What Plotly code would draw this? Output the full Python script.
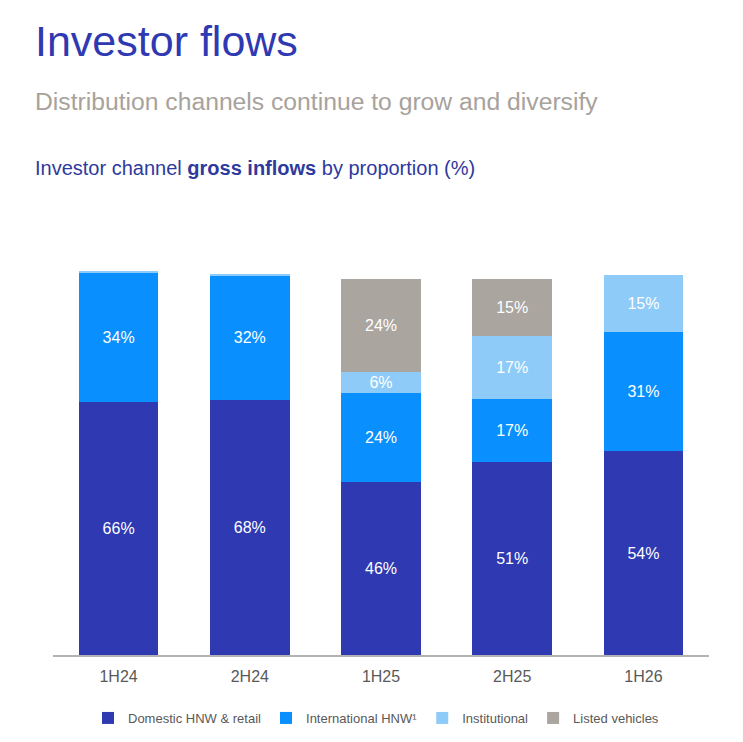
import plotly.graph_objects as go

# ---- data ----
periods = ["1H24", "2H24", "1H25", "2H25", "1H26"]
series_names = ["Domestic HNW & retail", "International HNW\u00b9", "Institutional", "Listed vehicles"]

domestic_vals = [66.0, 66.7, 45.2, 50.4, 53.2]
international_vals = [33.8, 32.4, 23.3, 16.4, 31.1]
institutional_vals = [0.3, 0.3, 5.5, 16.5, 15.0]
listed_vals = [None, None, 24.3, 14.8, None]

domestic_labels = ["66%", "68%", "46%", "51%", "54%"]
international_labels = ["34%", "32%", "24%", "17%", "31%"]
institutional_labels = ["", "", "6%", "17%", "15%"]
listed_labels = ["", "", "24%", "15%", ""]

colors = ["#2E39B2", "#0990FE", "#8FCBF9", "#AAA59F"]

FONT = "Liberation Sans, Arial, sans-serif"

W, H = 743, 742
ML, MR, MT, MB = 53, 34, 200, 87
PW, PH = W - ML - MR, H - MT - MB


def px_x(px):
    return (px - ML) / PW


def px_y(py):
    return (H - MB - py) / PH


fig = go.Figure()
for name, vals, labels, col in zip(
    series_names,
    [domestic_vals, international_vals, institutional_vals, listed_vals],
    [domestic_labels, international_labels, institutional_labels, listed_labels],
    colors,
):
    fig.add_trace(go.Bar(
        x=periods, y=vals, name=name, text=labels,
        marker=dict(color=col, line=dict(width=0)),
        textposition="inside", insidetextanchor="middle",
        constraintext="none",
        textfont=dict(family=FONT, size=16, color="white"),
        hoverinfo="skip",
    ))

fig.update_layout(
    width=W, height=H,
    margin=dict(l=ML, r=MR, t=MT, b=MB, autoexpand=False),
    barmode="stack", bargap=0.394,
    paper_bgcolor="white", plot_bgcolor="white",
    font=dict(family=FONT, color="#595959"),
    showlegend=True,
    legend=dict(
        orientation="h", x=px_x(376), xanchor="center",
        yref="container", y=(H - 718) / H, yanchor="middle",
        font=dict(family=FONT, size=13, color="#595959"),
        traceorder="normal", itemclick=False, itemdoubleclick=False,
    ),
    xaxis=dict(
        showline=True, linecolor="#B3B3B3", linewidth=1.5, ticks="",
        ticklabelstandoff=6,
        tickfont=dict(family=FONT, size=16, color="#595959"),
        showgrid=False, zeroline=False, fixedrange=True,
    ),
    yaxis=dict(
        range=[0, PH / 3.83], visible=False, showgrid=False, zeroline=False, fixedrange=True,
    ),
    annotations=[
        dict(text="Investor flows", xref="paper", yref="paper", x=px_x(33), y=px_y(40.8),
             xanchor="left", yanchor="middle", showarrow=False,
             font=dict(family=FONT, size=43, color="#2E39B2")),
        dict(text="Distribution channels continue to grow and diversify", xref="paper", yref="paper",
             x=px_x(33), y=px_y(101.5), xanchor="left", yanchor="middle", showarrow=False,
             font=dict(family=FONT, size=24.7, color="#A7A29C")),
        dict(text="Investor channel <b>gross inflows</b> by proportion (%)", xref="paper", yref="paper",
             x=px_x(33), y=px_y(167.9), xanchor="left", yanchor="middle", showarrow=False,
             font=dict(family=FONT, size=20, color="#2E3A9E")),
    ],
)

fig.write_html("out.html", config={"displayModeBar": False},
               post_script="document.body.style.margin='0';document.body.style.overflow='hidden';")
